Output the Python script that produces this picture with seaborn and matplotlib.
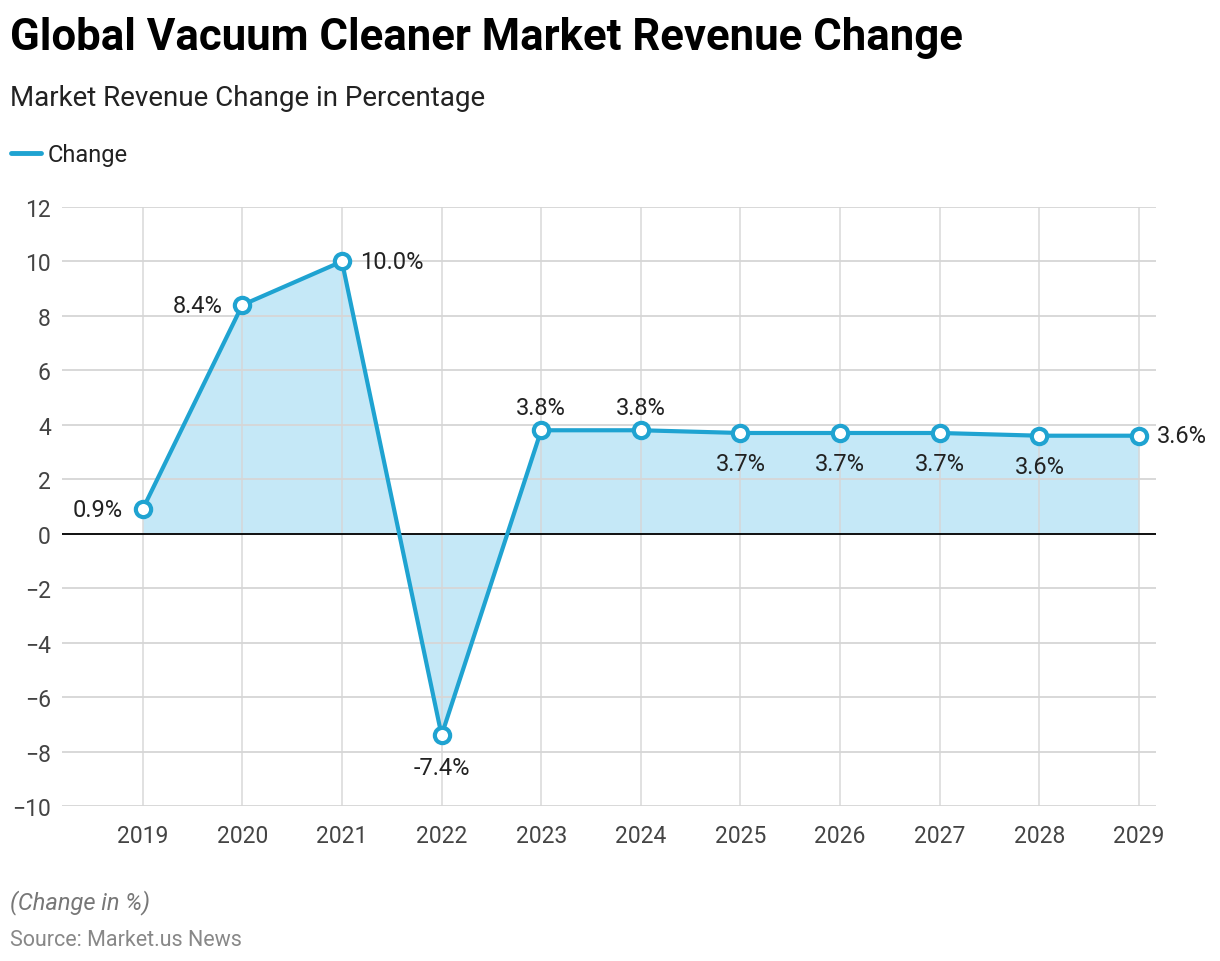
import pandas as pd
import seaborn as sns
import matplotlib.pyplot as plt

years = [2019, 2020, 2021, 2022, 2023, 2024, 2025, 2026, 2027, 2028, 2029]
change = [0.9, 8.4, 10.0, -7.4, 3.8, 3.8, 3.7, 3.7, 3.7, 3.6, 3.6]
label_pos = ["left", "left", "right", "below", "above", "above",
             "below", "below", "below", "below", "right"]
y_ticks = list(range(-10, 13, 2))

LINE = "#1FA3D1"
FILL = "#C5E8F7"

sns.set_theme(style="white")
plt.rcParams["font.family"] = ["Roboto", "DejaVu Sans"]

df = pd.DataFrame({"year": years, "change": change})

fig = plt.figure(figsize=(12.2, 9.62), dpi=100)
ax = fig.add_axes([0.0508, 0.1611, 0.8967, 0.6227])

ax.fill_between(df.year, df.change, 0, color=FILL, lw=0, zorder=1)
sns.lineplot(data=df, x="year", y="change", ax=ax, color=LINE, lw=3,
             marker="o", markersize=11, markerfacecolor="white",
             markeredgecolor=LINE, markeredgewidth=3, zorder=4, label="Change")

for y in y_ticks:
    ax.axhline(y, color="#d6d6d6", lw=1.3, zorder=2)
for x in years:
    ax.axvline(x, color="#d6d6d6", lw=1.3, zorder=2, alpha=0.8)
ax.axhline(0, color="black", lw=1.3, zorder=3)

for x, y, pos in zip(years, change, label_pos):
    txt = f"{y:.1f}%"
    kw = dict(fontsize=17, color="#222222", zorder=5)
    if pos == "left":
        ax.annotate(txt, (x, y), xytext=(-14, 0), textcoords="offset points",
                    ha="right", va="center", **kw)
    elif pos == "right":
        ax.annotate(txt, (x, y), xytext=(13, 0), textcoords="offset points",
                    ha="left", va="center", **kw)
    elif pos == "above":
        ax.annotate(txt, (x, y), xytext=(0, 8), textcoords="offset points",
                    ha="center", va="bottom", **kw)
    elif x == 2022:
        ax.annotate(txt, (x, y), xytext=(0, -15), textcoords="offset points",
                    ha="center", va="top", **kw)
    else:
        ax.annotate(txt, (x, y), xytext=(0, -14), textcoords="offset points",
                    ha="center", va="top", **kw)

ax.set_xlim(2018.19, 2029.17)
ax.set_ylim(-10, 12)
ax.set_xticks(years)
ax.set_yticks(y_ticks)
ax.tick_params(axis="both", labelsize=16.5, colors="#444444", length=0)
ax.tick_params(axis="x", pad=13)
ax.tick_params(axis="y", pad=8)
ax.set_xlabel("")
ax.set_ylabel("")
for s in ax.spines.values():
    s.set_visible(False)
ax.get_legend().remove()

fig.text(0.008, 0.960, "Global Vacuum Cleaner Market Revenue Change",
         fontsize=31.5, fontweight="bold", color="black", va="center")
fig.text(0.008, 0.898, "Market Revenue Change in Percentage",
         fontsize=20, color="#222222", va="center")
fig.lines.append(plt.Line2D([0.009, 0.034], [0.840, 0.840], transform=fig.transFigure,
                            color=LINE, lw=3.5))
fig.text(0.039, 0.838, "Change", fontsize=17, color="#222222", va="center")
fig.text(0.008, 0.062, "(Change in %)", fontsize=17, color="#777777",
         style="italic", va="center")
fig.text(0.008, 0.022, "Source: Market.us News", fontsize=15.5, color="#888888",
         va="center")

fig.savefig("out.png", dpi=100)
